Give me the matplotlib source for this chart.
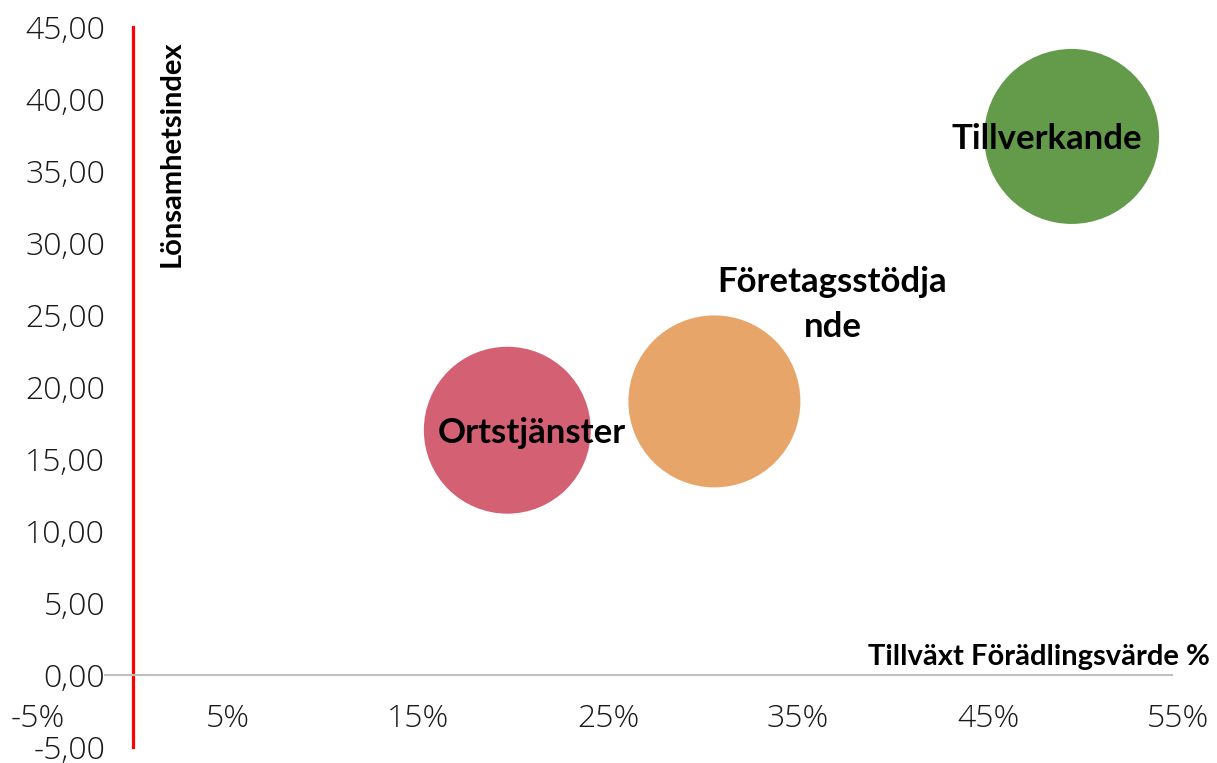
import matplotlib
matplotlib.use("Agg")
import matplotlib.pyplot as plt
import numpy as np

# ---- data ----
categories = ["Ortstjänster", "Företagsstödjande", "Tillverkande"]
label_text = ["Ortstjänster", "Företagsstödja\nnde", "Tillverkande"]
growth_pct = [19.7, 30.6, 49.4]          # Tillväxt Förädlingsvärde %
profit_index = [17.0, 19.0, 37.4]        # Lönsamhetsindex
bubble_size = [69.7, 74.0, 76.6]         # relative bubble areas
colors = ["#D46074", "#E8A569", "#649B4A"]

x_ticks = [-5, 5, 15, 25, 35, 45, 55]
x_ticklabels = ["-5%", "5%", "15%", "25%", "35%", "45%", "55%"]
y_ticks = [-5, 0, 5, 10, 15, 20, 25, 30, 35, 40, 45]
y_ticklabels = ["-5,00", "0,00", "5,00", "10,00", "15,00", "20,00", "25,00",
                "30,00", "35,00", "40,00", "45,00"]

W, H, DPI = 1217, 763, 100
fig = plt.figure(figsize=(W / DPI, H / DPI), dpi=DPI)
ax = fig.add_axes([38 / W, 1 - 747 / H, (1178 - 38) / W, (747 - 27) / H])
ax.set_xlim(-5, 55)
ax.set_ylim(-5, 45)

# bubble scaling: area proportional to size
px_per_pt = DPI / 72.0
max_diam_px = 175.0
scale = (max_diam_px / px_per_pt) ** 2 / max(bubble_size)
sizes = [b * scale for b in bubble_size]
ax.scatter(growth_pct, profit_index, s=sizes, c=colors, edgecolors="none", zorder=3)

label_font = dict(family=["Lato", "DejaVu Sans"], weight="bold", fontsize=25, color="black")
offsets = [(18, -2), (85, 70), (-18, -2)]
for xv, yv, t, off in zip(growth_pct, profit_index, label_text, offsets):
    ax.annotate(t, (xv, yv), xytext=off, textcoords="offset points",
                ha="center", va="center", linespacing=1.5, zorder=4, **label_font)

# spines
for s in ["top", "right"]:
    ax.spines[s].set_visible(False)
ax.spines["left"].set_position(("data", 0))
ax.spines["left"].set_color("#FF0000")
ax.spines["left"].set_linewidth(2.3)
ax.spines["bottom"].set_position(("data", 0))
ax.spines["bottom"].set_color("#BFBFBF")
ax.spines["bottom"].set_linewidth(1.5)
ax.spines["bottom"].set_bounds(-1.5, 54.7)

ax.set_xticks(x_ticks)
ax.set_xticklabels(x_ticklabels)
ax.set_yticks(y_ticks)
ax.set_yticklabels(y_ticklabels)
tick_font = ["Open Sans", "DejaVu Sans"]
ax.tick_params(axis="both", length=0, labelsize=23, labelcolor="#1a1a1a")
ax.tick_params(axis="y", pad=20)
ax.tick_params(axis="x", pad=20)
for lab in ax.get_xticklabels() + ax.get_yticklabels():
    lab.set_family(tick_font)
    lab.set_fontweight("light")

fig.text(172 / W, 1 - 40 / H, "Lönsamhetsindex", rotation=90, ha="center", va="top",
         family=["Lato", "DejaVu Sans"], weight="bold", fontsize=21)
fig.text(1210 / W, 1 - 657 / H, "Tillväxt Förädlingsvärde %", ha="right", va="center",
         family=["Lato", "DejaVu Sans"], weight="bold", fontsize=21)

fig.savefig("out.png", dpi=DPI)
